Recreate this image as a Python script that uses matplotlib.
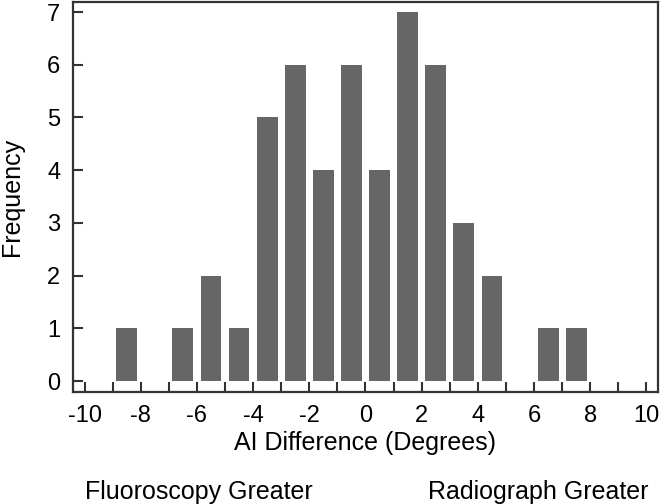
import numpy as np
import matplotlib.pyplot as plt

plt.rcParams['font.family'] = ['Liberation Sans', 'DejaVu Sans']
plt.rcParams['axes.unicode_minus'] = False

# bin centres and counts
bin_centers = [-9.5, -8.5, -7.5, -6.5, -5.5, -4.5, -3.5, -2.5, -1.5, -0.5,
               0.5, 1.5, 2.5, 3.5, 4.5, 5.5, 6.5, 7.5, 8.5, 9.5]
counts = [0, 1, 0, 1, 2, 1, 5, 6, 4, 6,
          4, 7, 6, 3, 2, 0, 1, 1, 0, 0]
x_ticks = list(range(-10, 11, 2))
y_ticks = list(range(0, 8))

fig = plt.figure(figsize=(6.61, 5.04), dpi=100)
ax = fig.add_axes([0.110, 0.222, 0.885, 0.774])

ax.bar(bin_centers, counts, width=0.74, color='#666666', linewidth=0, zorder=2)

ax.set_xlim(-10.42, 10.4)
ax.set_ylim(-0.21, 7.19)

ax.set_xticks(x_ticks)
ax.set_xticks(range(-9, 10, 2), minor=True)
ax.set_yticks(y_ticks)

spine_col = '#333333'
for s in ax.spines.values():
    s.set_color(spine_col)
    s.set_linewidth(1.6)

ax.tick_params(axis='both', which='both', direction='in', length=7.5,
               width=1.5, color=spine_col, labelsize=17)
ax.tick_params(axis='x', which='major', pad=9)
ax.tick_params(axis='y', which='major', pad=9)

ax.set_xlabel('AI Difference (Degrees)', fontsize=18, va='center')
ax.xaxis.set_label_coords(0.499, -0.131)
ax.set_ylabel('Frequency', fontsize=18, va='center')
ax.yaxis.set_label_coords(-0.104, 0.5)

fig.text(0.129, 0.024, 'Fluoroscopy Greater', fontsize=18, ha='left', va='center')
fig.text(0.981, 0.024, 'Radiograph Greater', fontsize=18, ha='right', va='center')

fig.savefig('out.png', dpi=100)
